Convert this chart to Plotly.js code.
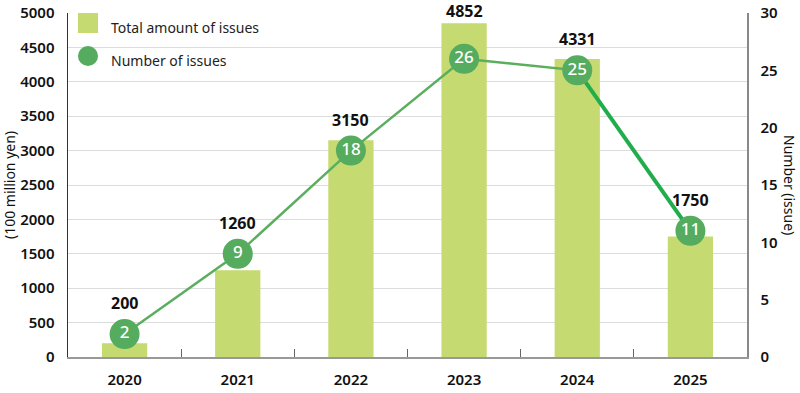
<!DOCTYPE html>
<html>
<head>
<meta charset="utf-8">
<script src="https://cdn.plot.ly/plotly-3.0.1.min.js"></script>
<style>html,body{margin:0;padding:0;background:#fff;}#chart{width:800px;height:393px;}</style>
</head>
<body>
<div id="chart"></div>
<script>
const years = ['2020', '2021', '2022', '2023', '2024', '2025'];
const totalAmount = [200, 1260, 3150, 4852, 4331, 1750];
const numberOfIssues = [2, 9, 18, 26, 25, 11];
const leftTicks = [0, 500, 1000, 1500, 2000, 2500, 3000, 3500, 4000, 4500, 5000];
const rightTicks = [0, 5, 10, 15, 20, 25, 30];
const barName = 'Total amount of issues';
const lineName = 'Number of issues';
const leftTitle = '(100 million yen)';
const rightTitle = 'Number (issue)';

const BAR = '#c5da71';
const DOT = '#55ab5e';
const LINE = '#5aae5e';
const LINE2 = '#22ad4c';
const FONT = 'Noto Sans, Roboto, sans-serif';

const yMax = 5000, y2Max = 30;
const plotH = 344;
const markerR = 15;

const traces = [
  {type: 'bar', x: years, y: totalAmount, name: barName, marker: {color: BAR}, width: 0.4, showlegend: false, hoverinfo: 'x+y'},
  {type: 'scatter', mode: 'lines', x: years, y: numberOfIssues, yaxis: 'y2', line: {color: LINE, width: 2.5}, showlegend: false, hoverinfo: 'skip'},
  {type: 'scatter', mode: 'lines', x: years.slice(4), y: numberOfIssues.slice(4), yaxis: 'y2', line: {color: LINE2, width: 4}, showlegend: false, hoverinfo: 'skip'},
  {type: 'scatter', mode: 'markers+text', x: years, y: numberOfIssues, yaxis: 'y2', name: lineName,
   marker: {color: DOT, size: 30}, text: numberOfIssues.map(String), textposition: 'middle center',
   textfont: {color: '#ffffff', size: 17, family: FONT, weight: 500}, showlegend: false}
];

const annotations = years.map((yr, i) => {
  const markerTopUnits = numberOfIssues[i] * yMax / y2Max + markerR * yMax / plotH;
  const base = {x: i, xref: 'x', text: String(totalAmount[i]), showarrow: false, yanchor: 'bottom', borderpad: 0,
    font: {size: 16, color: '#111', family: FONT, weight: 700}};
  if (markerTopUnits > totalAmount[i]) {
    return Object.assign(base, {y: numberOfIssues[i], yref: 'y2', yshift: markerR + 4});
  }
  return Object.assign(base, {y: totalAmount[i], yref: 'y', yshift: 0});
});

annotations.push({xref: 'paper', yref: 'paper', x: 1, y: 0.5, xshift: 43, xanchor: 'center', yanchor: 'middle',
  text: rightTitle, textangle: 90, showarrow: false, font: {size: 14, color: '#111', family: FONT}});
annotations.push({xref: 'paper', yref: 'paper', x: 0, y: 0.5, xshift: -59, xanchor: 'center', yanchor: 'middle',
  text: leftTitle, textangle: -90, showarrow: false, font: {size: 14, color: '#111', family: FONT}});
annotations.push({xref: 'paper', yref: 'paper', x: 0.06, y: 1, yshift: -14, text: barName, xanchor: 'left', yanchor: 'middle',
  showarrow: false, font: {size: 14, color: '#222', family: FONT}});
annotations.push({xref: 'paper', yref: 'paper', x: 0.06, y: 1, yshift: -47, text: lineName, xanchor: 'left', yanchor: 'middle',
  showarrow: false, font: {size: 14, color: '#222', family: FONT}});

const layout = {
  width: 800, height: 393,
  margin: {l: 68, r: 53, t: 13, b: 36},
  paper_bgcolor: '#ffffff', plot_bgcolor: '#ffffff',
  showlegend: false,
  xaxis: {type: 'category', range: [-0.5, 5.5], showgrid: false, showline: true, linecolor: '#999', linewidth: 1.5,
    ticks: 'inside', tickson: 'boundaries', ticklen: 8, tickcolor: '#666', tickwidth: 1,
    tickfont: {size: 15, color: '#111', family: FONT, weight: 600}, ticklabelstandoff: 8, fixedrange: true},
  yaxis: {range: [0, yMax], tickvals: leftTicks, showgrid: true, gridcolor: '#dcdcdc', gridwidth: 1,
    showline: true, linecolor: '#333', linewidth: 1.5, ticks: '', zeroline: false,
    tickfont: {size: 15, color: '#111', family: FONT, weight: 600}, ticklabelstandoff: 9},
  yaxis2: {range: [0, y2Max], tickvals: rightTicks, overlaying: 'y', side: 'right', showgrid: false,
    showline: true, linecolor: '#888', linewidth: 1.5, ticks: '', zeroline: false,
    tickfont: {size: 15, color: '#111', family: FONT, weight: 600}, ticklabelstandoff: 9},
  shapes: [
    {type: 'rect', xref: 'paper', yref: 'paper', x0: 0.0147, x1: 0.0442, y0: 0.9419, y1: 0.9999,
      fillcolor: BAR, line: {width: 0}},
    {type: 'circle', xref: 'paper', yref: 'paper', x0: 0.0147, x1: 0.0442, y0: 0.8459, y1: 0.9041,
      fillcolor: DOT, line: {width: 0}}
  ],
  annotations: annotations
};

Plotly.newPlot('chart', traces, layout, {displayModeBar: false, staticPlot: true});
</script>
</body>
</html>
